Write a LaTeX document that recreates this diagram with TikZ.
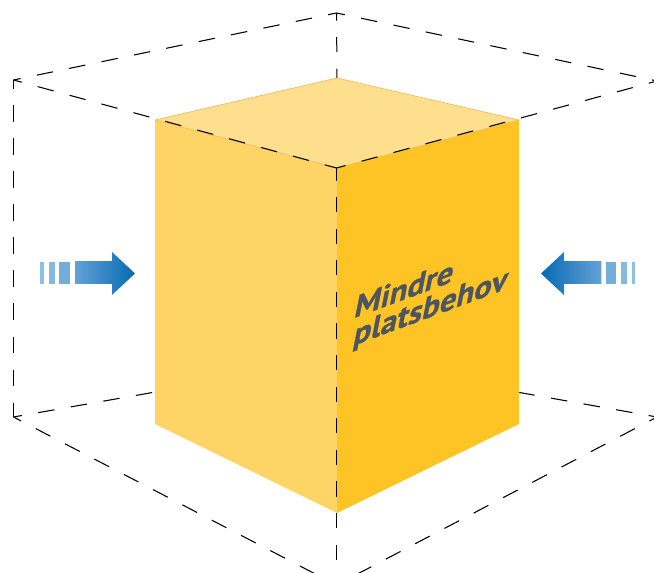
\documentclass[tikz,border=0pt]{standalone}
\usepackage{fontspec}
\setmainfont[BoldFeatures={FakeBold=0.6}]{PT Sans}
\definecolor{topface}{HTML}{FDDF8E}
\definecolor{leftface}{HTML}{FED466}
\definecolor{rightface}{HTML}{FEC325}
\definecolor{edgeor}{HTML}{F9B04A}
\definecolor{txt}{HTML}{4D5560}
\definecolor{bA}{HTML}{8CC1E5}
\definecolor{bB}{HTML}{84BAE1}
\definecolor{bC}{HTML}{74ADDA}
\definecolor{bD}{HTML}{64A2D5}
\definecolor{bE}{HTML}{2A7FC0}
\definecolor{bF}{HTML}{056AB3}
\definecolor{halo}{HTML}{CFE2F3}
\tikzset{
  guide/.style={line width=0.8pt,black,dash pattern=on 12.4pt off 12.4pt,dash phase=6pt},
  spine/.style={line width=0.75pt,black,dash pattern=on 11.3pt off 12.4pt,dash phase=1.9pt},
  label/.style={cm={1,.37,.2,1,(0,0)},anchor=base west,inner sep=0pt,text=txt,font=\fontsize{24.5}{24.5}\selectfont\bfseries}
}
\begin{document}
\begin{tikzpicture}[x=0.75pt,y=-0.75pt]
\useasboundingbox (0,0) rectangle (654,573);
\coordinate (tA) at (336.5,13);
\coordinate (tL) at (13.5,80);
\coordinate (tR) at (657,81);
\coordinate (tC) at (336.5,168);
\coordinate (bL) at (13.5,417);
\coordinate (bR) at (657,417);
\coordinate (bC) at (336.5,585);
\coordinate (hC) at (337,360);
\coordinate (cT) at (337,78);
\coordinate (cL) at (155,120);
\coordinate (cR) at (519,120);
\coordinate (cM) at (337,168);
\coordinate (cLb) at (155,424);
\coordinate (cRb) at (519,424);
\coordinate (cB) at (337,513);
% hidden guides, behind the cube
\draw[guide] (bL) -- (hC);
\draw[guide] (bR) -- (hC);
\draw[spine,dash phase=5.6pt] (tA) -- (cT);
% cube
\fill[leftface] (cL) -- (cM) -- (cB) -- (cLb) -- cycle;
\fill[rightface] (cR) -- (cM) -- (cB) -- (cRb) -- cycle;
\fill[topface] (cT) -- (cR) -- (cM) -- (cL) -- cycle;
\draw[edgeor,line width=.4pt] (cL) -- (cT) -- (cR) -- (cM) -- cycle;
% guides
\draw[guide] (tL) -- (tC);
\draw[guide] (tR) -- (tC);
\draw[spine] (tC) -- (bC);
\draw[guide] (tA) -- (tL);
\draw[guide] (tA) -- (tR);
\draw[guide] (tL) -- (bL);
\draw[guide] (tR) -- (bR);
\draw[guide] (bL) -- (bC);
\draw[guide] (bR) -- (bC);
% text
\node[label] (mindre) at (353,318.5) {Mindre};
\node[label] (plats) at (352,346) {platsbehov};
% left arrow
\fill[bA] (40,262) rectangle (44,284);
\fill[bB] (49,262) rectangle (55,284);
\fill[bC] (59,262) rectangle (70,284);
\fill[halo] (74.5,261.5) rectangle (112,284.5);
\path[left color=bD,right color=bE] (75,262) rectangle (112,284);
\path[left color=bE,right color=bF] (112,252) -- (135,273.5) -- (112,295) -- cycle;
% right arrow
\fill[bA] (632,262) rectangle (635,284);
\fill[bB] (621,262) rectangle (627,284);
\fill[bC] (606,262) rectangle (616,284);
\fill[halo] (564,261.5) rectangle (601.5,284.5);
\path[left color=bE,right color=bD] (564,262) rectangle (601,284);
\path[left color=bF,right color=bE] (564,252) -- (541,273.5) -- (564,295) -- cycle;
\end{tikzpicture}
\end{document}
